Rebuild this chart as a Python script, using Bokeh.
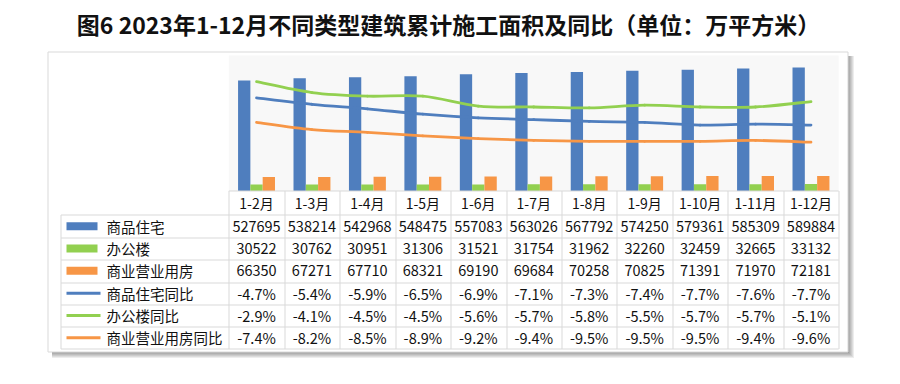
from bokeh.plotting import figure
from bokeh.models import Range1d
from bokeh.core.properties import value
from bokeh.embed import file_html
from bokeh.resources import INLINE

# ---------------- data ----------------
title_text = "图6 2023年1-12月不同类型建筑累计施工面积及同比（单位：万平方米）"
periods = ["1-2月", "1-3月", "1-4月", "1-5月", "1-6月", "1-7月",
           "1-8月", "1-9月", "1-10月", "1-11月", "1-12月"]
housing = [527695, 538214, 542968, 548475, 557083, 563026, 567792, 574250, 579361, 585309, 589884]
office = [30522, 30762, 30951, 31306, 31521, 31754, 31962, 32260, 32459, 32665, 33132]
commercial = [66350, 67271, 67710, 68321, 69190, 69684, 70258, 70825, 71391, 71970, 72181]
housing_yoy = [-4.7, -5.4, -5.9, -6.5, -6.9, -7.1, -7.3, -7.4, -7.7, -7.6, -7.7]
office_yoy = [-2.9, -4.1, -4.5, -4.5, -5.6, -5.7, -5.8, -5.5, -5.7, -5.7, -5.1]
commercial_yoy = [-7.4, -8.2, -8.5, -8.9, -9.2, -9.4, -9.5, -9.5, -9.5, -9.4, -9.6]
bar_names = ["商品住宅", "办公楼", "商业营业用房"]
line_names = ["商品住宅同比", "办公楼同比", "商业营业用房同比"]

# ---------------- style / layout ----------------
BLUE, GREEN, ORANGE = "#4F7EBE", "#92D050", "#F79646"
GRID = "#D9D9D9"
TXT = "#111111"
FONT = value("Noto Sans CJK SC")
W, H = 884, 368
O = 0  # page origin of the canvas
PA_L, PA_R, PA_T, PA_B = 228.3, 838.2, 55.0, 190.5
AREA_MAX = 647000.0
PCT_MIN, PCT_MAX = -15.0, 0.0
N = len(periods)
CW = (PA_R - PA_L) / N
BW = 0.222

cat_range = Range1d((O - PA_L) / CW, (O + W - PA_L) / CW)
k_area = (PA_B - PA_T) / AREA_MAX
area_range = Range1d(-(O + H - PA_B) / k_area, (PA_B - O) / k_area)
k_pct = (PA_B - PA_T) / (PCT_MAX - PCT_MIN)
pct_range = Range1d(PCT_MIN - (O + H - PA_B) / k_pct, PCT_MIN + (PA_B - O) / k_pct)

p = figure(width=W, height=H, x_range=Range1d(O, O + W), y_range=Range1d(O + H, O),
           output_backend="svg", toolbar_location=None, min_border=0,
           x_axis_type=None, y_axis_type=None, title=None)
p.extra_x_ranges = {"cat": cat_range}
p.extra_y_ranges = {"area": area_range, "pct": pct_range}
p.outline_line_color = None
p.background_fill_color = "white"
p.border_fill_color = "white"

# chart box shadow + box
BX0, BX1, BY0, BY1 = 47.5, 847.5, 51.5, 351.5
for d in range(1, 7):
    p.quad(left=[BX0 + 4], right=[BX1 + d], top=[BY0 + 4], bottom=[BY1 + d],
           fill_color="black", fill_alpha=0.07, line_color=None)
p.quad(left=[BX0], right=[BX1], top=[BY0], bottom=[BY1],
       fill_color="white", line_color=GRID, line_width=1)

# plot area
p.quad(left=[PA_L], right=[PA_R], top=[PA_T], bottom=[PA_B],
       fill_color="#F8F8F8", line_color=None)

# title
p.text(x=[448], y=[23], text=[title_text], text_font=FONT, text_font_size="23px",
       text_font_style="bold", text_align="center", text_baseline="middle", text_color=TXT)

# bars
xs = [i + 0.5 for i in range(N)]
for off, vals, col in [(-BW, housing, BLUE), (0.0, office, GREEN), (BW, commercial, ORANGE)]:
    p.vbar(x=[x + off for x in xs], top=vals, bottom=0, width=BW, fill_color=col,
           line_color=None, x_range_name="cat", y_range_name="area")

# smoothed lines (Catmull-Rom style bezier through the data points)
def smooth(xv, yv):
    n = len(xv)
    out = {k: [] for k in ["x0", "y0", "x1", "y1", "cx0", "cy0", "cx1", "cy1"]}
    for i in range(n - 1):
        xm = xv[i - 1] if i > 0 else xv[i]
        ym = yv[i - 1] if i > 0 else yv[i]
        xp = xv[i + 2] if i + 2 < n else xv[i + 1]
        yp = yv[i + 2] if i + 2 < n else yv[i + 1]
        out["x0"].append(xv[i]); out["y0"].append(yv[i])
        out["x1"].append(xv[i + 1]); out["y1"].append(yv[i + 1])
        out["cx0"].append(xv[i] + (xv[i + 1] - xm) / 6)
        out["cy0"].append(yv[i] + (yv[i + 1] - ym) / 6)
        out["cx1"].append(xv[i + 1] - (xp - xv[i]) / 6)
        out["cy1"].append(yv[i + 1] - (yp - yv[i]) / 6)
    return out

for vals, col in [(housing_yoy, BLUE), (office_yoy, GREEN), (commercial_yoy, ORANGE)]:
    s = smooth(xs, vals)
    p.bezier(x0=s["x0"], y0=s["y0"], x1=s["x1"], y1=s["y1"], cx0=s["cx0"], cy0=s["cy0"],
             cx1=s["cx1"], cy1=s["cy1"], line_color=col, line_width=2.8, line_cap="round",
             x_range_name="cat", y_range_name="pct")

# ---------------- data table ----------------
T_TOP, HDR_B, T_BOT, T_L = 190.5, 214.5, 348.5, 60.5
RH = (T_BOT - HDR_B) / 6
row_c = [HDR_B + RH * (r + 0.5) for r in range(6)]
# horizontal lines
hx0 = [PA_L] + [T_L] * 7
hy = [T_TOP, HDR_B] + [round(HDR_B + RH * (r + 1)) + 0.5 for r in range(5)] + [T_BOT]
p.segment(x0=hx0, y0=hy, x1=[PA_R] * 8, y1=hy, line_color=GRID, line_width=1)
# vertical lines
vx = [T_L]
vy0 = [HDR_B]
for k in range(N + 1):
    vx.append(round(PA_L + CW * k) + 0.5)
    vy0.append(T_TOP)
p.segment(x0=vx, y0=vy0, x1=vx, y1=[T_BOT] * len(vx), line_color=GRID, line_width=1)

# header texts
p.text(x=xs, y=[(T_TOP + HDR_B) / 2] * N, text=periods, text_font=FONT,
       text_font_size="14px", text_align="center", text_baseline="middle",
       text_color=TXT, x_range_name="cat")

# cell texts
rows = [[str(v) for v in housing], [str(v) for v in office], [str(v) for v in commercial],
        [f"{v:.1f}%" for v in housing_yoy], [f"{v:.1f}%" for v in office_yoy],
        [f"{v:.1f}%" for v in commercial_yoy]]
cx, cy, ct = [], [], []
for r, row in enumerate(rows):
    for i, t in enumerate(row):
        cx.append(xs[i]); cy.append(row_c[r]); ct.append(t)
p.text(x=cx, y=cy, text=ct, text_font=FONT, text_font_size="14.5px", text_align="center",
       text_baseline="middle", text_color=TXT, x_range_name="cat")

# legend keys + names
cols = [BLUE, GREEN, ORANGE]
p.quad(left=[66] * 3, right=[97] * 3, top=[row_c[r] - 4 for r in range(3)],
       bottom=[row_c[r] + 4 for r in range(3)], fill_color=cols, line_color=None)
p.segment(x0=[66] * 3, y0=row_c[3:], x1=[100] * 3, y1=row_c[3:], line_color=cols, line_width=3)
p.text(x=[106] * 6, y=row_c, text=bar_names + line_names, text_font=FONT,
       text_font_size="14.5px", text_align="left", text_baseline="middle", text_color=TXT)

open("out.html", "w").write(file_html(p, INLINE))
